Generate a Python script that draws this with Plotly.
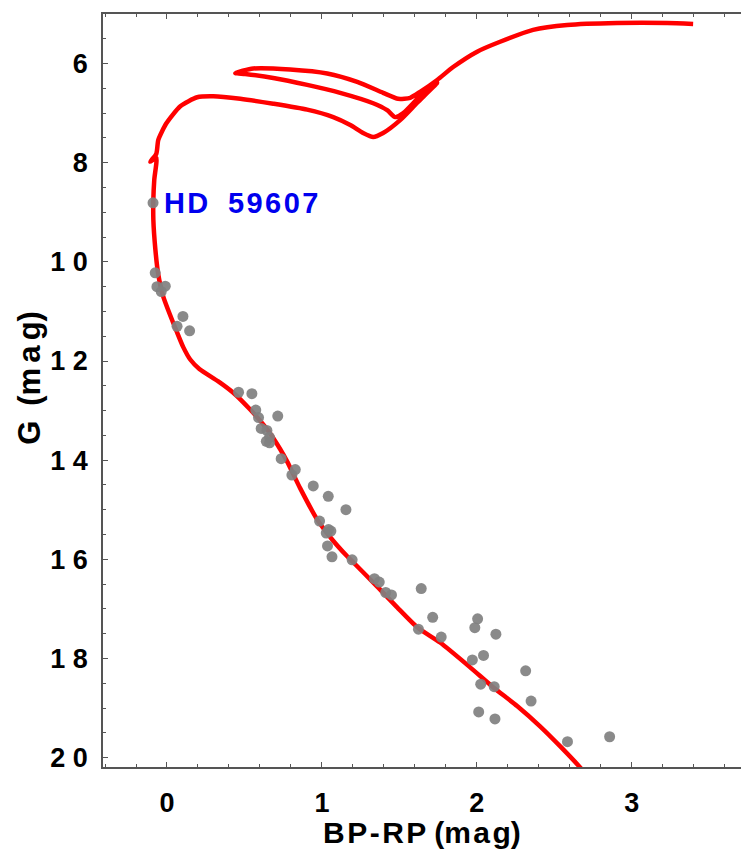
import plotly.graph_objects as go

# ---- isochrone (BP-RP, G) ----
iso_color = [2.705, 2.667, 2.537, 2.408, 2.260, 2.105, 1.957, 1.763, 1.615, 1.486,
             1.357, 1.202, 1.163, 1.066, 0.970, 0.860, 0.776, 0.731, 0.647, 0.537,
             0.428, 0.331, 0.209, 0.150, 0.105, 0.066, -0.024, -0.056, -0.075, -0.088, -0.088, -0.082,
             -0.069, -0.108, -0.069, -0.056, -0.005, 0.086, 0.195, 0.299, 0.473, 0.686,
             0.905, 1.073, 1.183, 1.266, 1.331, 1.395, 1.505, 1.615, 1.744,
             1.654, 1.525, 1.473, 1.421, 1.331, 1.118, 0.905, 0.686, 0.505, 0.441,
             0.557, 0.795, 1.034, 1.228, 1.395, 1.492, 1.570, 1.634, 1.744, 1.847,
             2.002, 2.150, 2.363, 2.583, 2.905, 3.228, 3.396]
iso_mag = [20.34, 20.20, 19.77, 19.37, 18.96, 18.58, 18.18, 17.68, 17.37, 16.97,
           16.55, 16.06, 15.94, 15.60, 15.20, 14.57, 14.03, 13.78, 13.38, 12.98,
           12.64, 12.41, 12.16, 11.97, 11.72, 11.43, 10.70, 10.26, 9.75, 9.15, 8.74, 8.34,
           7.90, 7.98, 7.82, 7.54, 7.21, 6.86, 6.68, 6.66, 6.71, 6.81,
           6.93, 7.08, 7.24, 7.40, 7.48, 7.40, 7.14, 6.79, 6.39,
           6.59, 7.00, 7.08, 6.94, 6.80, 6.59, 6.43, 6.29, 6.21, 6.19,
           6.10, 6.12, 6.20, 6.37, 6.59, 6.71, 6.69, 6.57, 6.33, 6.07,
           5.76, 5.56, 5.32, 5.22, 5.18, 5.18, 5.20]

# ---- cluster members ----
star_color = [-0.090, -0.076, -0.065, -0.011, -0.037, 0.103, 0.065, 0.146, 0.462, 0.548,
              0.573, 0.591, 0.715, 0.608, 0.645, 0.662, 0.641, 0.662, 0.737, 0.828,
              0.806, 0.944, 1.041, 1.155, 0.985, 1.043, 1.058, 1.028, 1.036, 1.065,
              1.195, 1.339, 1.370, 1.412, 1.449, 1.641, 1.715, 1.623, 1.770, 2.005,
              1.987, 2.123, 1.971, 2.043, 2.315, 2.025, 2.112, 2.350, 2.012, 2.117,
              2.585, 2.857]
star_mag = [8.81, 10.22, 10.50, 10.49, 10.60, 11.10, 11.30, 11.39, 12.63, 12.66,
            12.99, 13.14, 13.11, 13.36, 13.40, 13.54, 13.62, 13.65, 13.97, 14.19,
            14.30, 14.52, 14.73, 15.00, 15.23, 15.40, 15.43, 15.47, 15.73, 15.95,
            16.01, 16.39, 16.46, 16.67, 16.72, 16.59, 17.17, 17.41, 17.57, 17.20,
            17.38, 17.51, 18.03, 17.94, 18.25, 18.52, 18.57, 18.86, 19.08, 19.22,
            19.68, 19.58]

label_star = "HD 59607"
label_x, label_y = star_color[0], star_mag[0]

y_tickvals = [6, 8, 10, 12, 14, 16, 18, 20]
y_ticktext = ["6", "8", "1 0", "1 2", "1 4", "1 6", "1 8", "2 0"]
x_tickvals = [0, 1, 2, 3]
x_ticktext = ["0", "1", "2", "3"]

FONT = "Liberation Sans, Arial, sans-serif"
AX = "#555555"
HS = "\u200a"


def spaced(s, sep=HS):
    return sep.join(list(s))


fig = go.Figure()
fig.add_trace(go.Scatter(x=iso_color, y=iso_mag, mode="lines",
                         line=dict(color="#ff0000", width=4.5, shape="spline", smoothing=0.6),
                         hoverinfo="skip", showlegend=False))
fig.add_trace(go.Scatter(x=star_color, y=star_mag, mode="markers",
                         marker=dict(color="rgb(128,128,128)", size=11, opacity=0.92,
                                     line=dict(width=0)),
                         showlegend=False))

fig.add_annotation(x=label_x, y=label_y, xref="x", yref="y",
                   text="H" + HS + "D\u2009\u2009 " + spaced("59607"),
                   showarrow=False, xanchor="left", yanchor="middle", xshift=9,
                   font=dict(family=FONT, size=29, color="#0000ee", weight="bold"))

fig.add_annotation(x=-73 / 638, y=(767.5 - 378) / 753.5, xref="paper", yref="paper",
                   text="G\u2009 (" + spaced("mag", HS + HS) + ")", textangle=-90,
                   showarrow=False, xanchor="center", yanchor="middle",
                   font=dict(family=FONT, size=31, color="black", weight="bold"))
fig.add_annotation(x=0.5, y=(767.5 - 833) / 753.5, xref="paper", yref="paper",
                   text=spaced("BP-RP") + " (" + spaced("mag") + ")", showarrow=False,
                   xanchor="center", yanchor="middle",
                   font=dict(family=FONT, size=30, color="black", weight="bold"))

fig.update_xaxes(range=[-0.413, 3.705], tickmode="array", tickvals=x_tickvals,
                 ticktext=x_ticktext, ticks="inside", ticklen=5, tickwidth=1.2,
                 tickcolor=AX, showline=True, linecolor=AX, linewidth=1.5,
                 mirror="ticks", showgrid=False, zeroline=False,
                 ticklabelstandoff=11,
                 tickfont=dict(family=FONT, size=27, color="black", weight="bold"),
                 minor=dict(tickmode="linear", tick0=0, dtick=0.2, ticks="inside",
                            ticklen=3, tickwidth=1, tickcolor=AX, showgrid=False))
fig.update_yaxes(range=[20.19, 5.0], tickmode="array", tickvals=y_tickvals,
                 ticktext=y_ticktext, ticks="inside", ticklen=5, tickwidth=1.2,
                 tickcolor=AX, showline=True, linecolor=AX, linewidth=1.5,
                 mirror=False, showgrid=False, zeroline=False,
                 ticklabelstandoff=8,
                 tickfont=dict(family=FONT, size=27, color="black", weight="bold"),
                 minor=dict(tickmode="linear", tick0=0, dtick=0.5, ticks="inside",
                            ticklen=3, tickwidth=1, tickcolor=AX, showgrid=False))

fig.update_layout(width=741, height=855, margin=dict(l=103, r=0, t=14, b=88),
                  plot_bgcolor="white", paper_bgcolor="white")

fig.write_html("out.html")
